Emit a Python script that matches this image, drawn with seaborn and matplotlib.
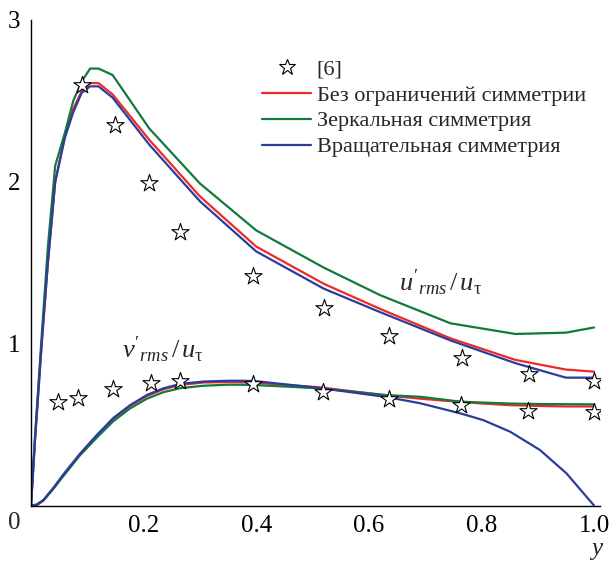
import numpy as np
import pandas as pd
import matplotlib
matplotlib.use("Agg")
import matplotlib.pyplot as plt
import seaborn as sns
from matplotlib.lines import Line2D

sns.set_theme(style="white")
plt.rcParams["font.family"] = ["Liberation Serif", "DejaVu Serif"]
plt.rcParams["mathtext.fontset"] = "custom"
plt.rcParams["mathtext.rm"] = "Liberation Serif"
plt.rcParams["mathtext.it"] = "Liberation Serif:italic"

# experimental points [6]
star_u_x = [0.09, 0.15, 0.21, 0.265, 0.395, 0.52, 0.635, 0.765, 0.885, 1.0]
star_u_y = [2.60, 2.35, 1.99, 1.69, 1.42, 1.22, 1.05, 0.91, 0.81, 0.77]
star_v_x = [0.048, 0.084, 0.146, 0.213, 0.265, 0.394, 0.518, 0.635, 0.763, 0.882, 1.0]
star_v_y = [0.64, 0.666, 0.718, 0.755, 0.771, 0.749, 0.70, 0.656, 0.623, 0.586, 0.576]

# u'_rms / u_tau curves
u_x = [0, 0.007, 0.019, 0.03, 0.043, 0.06, 0.075, 0.09, 0.105, 0.12, 0.145, 0.21,
       0.3, 0.4, 0.52, 0.62, 0.745, 0.86, 0.95, 1.0]
u_red = [0, 0.4, 1.0, 1.5, 2.0, 2.28, 2.45, 2.56, 2.61, 2.61, 2.54, 2.26,
         1.91, 1.60, 1.37, 1.215, 1.033, 0.90, 0.84, 0.827]
u_green = [0, 0.42, 1.05, 1.6, 2.1, 2.30, 2.50, 2.62, 2.70, 2.70, 2.66, 2.33,
           1.99, 1.70, 1.47, 1.30, 1.126, 1.06, 1.068, 1.10]
u_blue = [0, 0.4, 1.0, 1.5, 2.0, 2.27, 2.43, 2.55, 2.59, 2.59, 2.52, 2.23,
          1.88, 1.57, 1.34, 1.195, 1.02, 0.88, 0.79, 0.79]

# v'_rms / u_tau curves
v_x = [0, 0.01, 0.022, 0.04, 0.057, 0.087, 0.117, 0.146, 0.176, 0.206, 0.235, 0.265,
       0.306, 0.353, 0.395, 0.513, 0.632, 0.691, 0.762, 0.803, 0.851, 0.904, 0.951, 1.0]
v_red = [0, 0.0, 0.03, 0.105, 0.185, 0.315, 0.43, 0.535, 0.615, 0.677, 0.718, 0.745,
         0.76, 0.763, 0.76, 0.73, 0.68, 0.66, 0.64, 0.63, 0.62, 0.615, 0.612, 0.612]
v_green = [0, 0.005, 0.032, 0.105, 0.18, 0.31, 0.42, 0.52, 0.60, 0.66, 0.70, 0.725,
           0.74, 0.747, 0.745, 0.724, 0.682, 0.672, 0.642, 0.636, 0.63, 0.627, 0.626, 0.625]
v_blue = [0, 0.005, 0.034, 0.11, 0.19, 0.32, 0.436, 0.54, 0.62, 0.683, 0.724, 0.751,
          0.766, 0.771, 0.77, 0.726, 0.67, 0.632, 0.57, 0.528, 0.456, 0.343, 0.199, 0.0]

labels = ["Без ограничений симметрии", "Зеркальная симметрия", "Вращательная симметрия"]
colors = ["#ec2a26", "#117a3c", "#2b3c9e"]

fig = plt.figure(figsize=(6.12, 5.63), dpi=100)
W, H = 612, 563
x0, x1 = 0.0, 1.01
px_per_x = 563
ax = fig.add_axes([31 / W, (H - 505.5) / H, px_per_x * (x1 - x0) / W, 485.5 / H])

for ys_u, ys_v, col in zip([u_red, u_green, u_blue], [v_red, v_green, v_blue], colors):
    sns.lineplot(x=u_x, y=ys_u, color=col, lw=1.6, ax=ax, sort=False)
    sns.lineplot(x=v_x, y=ys_v, color=col, lw=1.6, ax=ax, sort=False)

star_kw = dict(marker="*", s=170, facecolor="white", edgecolor="black", linewidth=0.8, zorder=5, ax=ax)
sns.scatterplot(x=star_u_x, y=star_u_y, **star_kw)
sns.scatterplot(x=star_v_x, y=star_v_y, **star_kw)

ax.set_xlim(x0, x1)
ax.set_ylim(0, 3)
ax.set_xticks([0.2, 0.4, 0.6, 0.8, 1.0])
ax.set_xticklabels(["0.2", "0.4", "0.6", "0.8", "1.0"])
ax.set_yticks([1, 2, 3])
ax.set_yticklabels(["1", "2", "3"])
ax.tick_params(direction="in", length=6, width=1, labelsize=18, colors="black", pad=7)
ax.tick_params(axis="y", pad=8)
for side in ["top", "right"]:
    ax.spines[side].set_visible(False)
for side in ["left", "bottom"]:
    ax.spines[side].set_color("black")
    ax.spines[side].set_linewidth(1.0)
ax.set_facecolor("white")

ax.text(-0.029, -0.11, "0", fontsize=18, ha="center", va="center", clip_on=False)
ax.text(1.005, -0.27, "y", fontsize=18, style="italic", ha="center", va="center", clip_on=False)

ax.text(0.727, 1.375, r"$u'_{rms}\,/\,u_{\mathrm{τ}}$", fontsize=19, ha="center", va="center")
ax.text(0.234, 0.96, r"$v'_{rms}\,/\,u_{\mathrm{τ}}$", fontsize=19, ha="center", va="center")

handles = [Line2D([], [], ls="none", marker="*", markersize=12, markerfacecolor="white",
                  markeredgecolor="black", markeredgewidth=0.8)]
handles += [Line2D([], [], color=c, lw=1.6) for c in colors]
leg = fig.legend(handles, ["[6]"] + labels, loc="upper left",
                 bbox_to_anchor=(251 / W, 1 - 48 / H), frameon=False, fontsize=16,
                 handlelength=2.2, handletextpad=0.25, labelspacing=0.24, borderpad=0)

fig.savefig("out.png", dpi=100, facecolor="white")
